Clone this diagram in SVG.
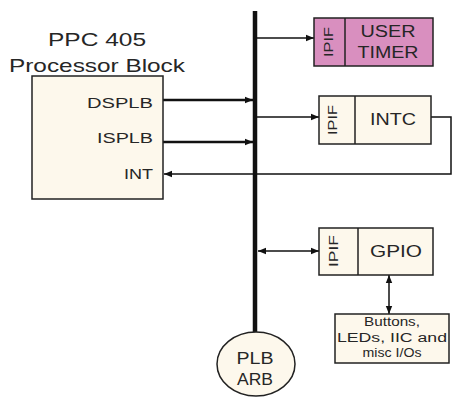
<svg xmlns="http://www.w3.org/2000/svg" width="452" height="398" viewBox="0 0 452 398">
<defs>
<style>
.box{fill:#fdf8ec;stroke:#222;stroke-width:1.5}
.pink{fill:#d98fbf;stroke:#222;stroke-width:1.5}
.t{font-family:"Liberation Sans",Arial,sans-serif;fill:#262626}
.w{fill:none;stroke:#111;stroke-width:1.5}
.wb{fill:none;stroke:#111;stroke-width:2.5}
</style>
<marker id="ah" viewBox="0 0 10 10" refX="10" refY="5" markerWidth="8" markerHeight="8" markerUnits="userSpaceOnUse" orient="auto-start-reverse">
<path d="M0,1 L10,5 L0,9 Z" fill="#111"/>
</marker>
<marker id="ahb" viewBox="0 0 10 10" refX="10" refY="5" markerWidth="8" markerHeight="8" markerUnits="userSpaceOnUse" orient="auto">
<path d="M0,1 L10,5 L0,9 Z" fill="#111"/>
</marker>
</defs>
<rect width="452" height="398" fill="#fff"/>
<g id="connectors">
<line x1="255" y1="11" x2="255" y2="333" stroke="#111" stroke-width="4.5"/>
<line class="wb" x1="163" y1="100" x2="253" y2="100" marker-end="url(#ahb)"/>
<line class="wb" x1="163" y1="142" x2="253" y2="142" marker-end="url(#ahb)"/>
<line class="w" x1="257" y1="38" x2="314" y2="38" marker-end="url(#ah)"/>
<line class="w" x1="257" y1="117" x2="319" y2="117" marker-end="url(#ah)"/>
<polyline class="w" points="431,117 451,117 451,174 164,174" marker-end="url(#ah)"/>
<line class="w" x1="258" y1="251" x2="319" y2="251" marker-start="url(#ah)" marker-end="url(#ah)"/>
<line class="w" x1="389" y1="275" x2="389" y2="314" marker-start="url(#ah)" marker-end="url(#ah)"/>
</g>
<g id="ppc405">
<text class="t" x="97" y="46" font-size="19" text-anchor="middle" textLength="98" lengthAdjust="spacingAndGlyphs">PPC 405</text>
<text class="t" x="97" y="72" font-size="19" text-anchor="middle" textLength="176" lengthAdjust="spacingAndGlyphs">Processor Block</text>
<rect class="box" x="32" y="76" width="131" height="123"/>
<text class="t" x="153" y="108" font-size="15" text-anchor="end" textLength="66" lengthAdjust="spacingAndGlyphs">DSPLB</text>
<text class="t" x="153" y="143" font-size="15" text-anchor="end" textLength="56" lengthAdjust="spacingAndGlyphs">ISPLB</text>
<text class="t" x="153" y="179" font-size="15" text-anchor="end" textLength="29" lengthAdjust="spacingAndGlyphs">INT</text>
</g>
<g id="usertimer">
<rect class="pink" x="314" y="18" width="119" height="48"/>
<line x1="345" y1="18" x2="345" y2="66" stroke="#222" stroke-width="1.5"/>
<text class="t" transform="translate(333,42) rotate(-90)" x="0" y="0" font-size="13" text-anchor="middle" textLength="30" lengthAdjust="spacingAndGlyphs">IPIF</text>
<text class="t" x="388" y="37" font-size="16" text-anchor="middle" textLength="55" lengthAdjust="spacingAndGlyphs">USER</text>
<text class="t" x="388" y="58" font-size="16" text-anchor="middle" textLength="61" lengthAdjust="spacingAndGlyphs">TIMER</text>
</g>
<g id="intc">
<rect class="box" x="319" y="96" width="112" height="48"/>
<line x1="355" y1="96" x2="355" y2="144" stroke="#222" stroke-width="1.5"/>
<text class="t" transform="translate(337,120) rotate(-90)" x="0" y="0" font-size="13" text-anchor="middle" textLength="30" lengthAdjust="spacingAndGlyphs">IPIF</text>
<text class="t" x="393" y="125" font-size="16" text-anchor="middle" textLength="46" lengthAdjust="spacingAndGlyphs">INTC</text>
</g>
<g id="gpio">
<rect class="box" x="319" y="228" width="114" height="47"/>
<line x1="358" y1="228" x2="358" y2="275" stroke="#222" stroke-width="1.5"/>
<text class="t" transform="translate(338,251) rotate(-90)" x="0" y="0" font-size="13" text-anchor="middle" textLength="32" lengthAdjust="spacingAndGlyphs">IPIF</text>
<text class="t" x="396" y="257" font-size="16" text-anchor="middle" textLength="52" lengthAdjust="spacingAndGlyphs">GPIO</text>
</g>
<g id="io">
<rect class="box" x="335" y="314" width="114" height="49"/>
<text class="t" x="392" y="326" font-size="12" text-anchor="middle" textLength="56" lengthAdjust="spacingAndGlyphs">Buttons,</text>
<text class="t" x="392" y="342" font-size="12" text-anchor="middle" textLength="110" lengthAdjust="spacingAndGlyphs">LEDs, IIC and</text>
<text class="t" x="392" y="357" font-size="12" text-anchor="middle" textLength="59" lengthAdjust="spacingAndGlyphs">misc I/Os</text>
</g>
<g id="plbarb">
<ellipse class="box" cx="256" cy="364" rx="39" ry="32"/>
<text class="t" x="255" y="364" font-size="16" text-anchor="middle" textLength="37" lengthAdjust="spacingAndGlyphs">PLB</text>
<text class="t" x="255" y="385" font-size="16" text-anchor="middle" textLength="36" lengthAdjust="spacingAndGlyphs">ARB</text>
</g>
</svg>
